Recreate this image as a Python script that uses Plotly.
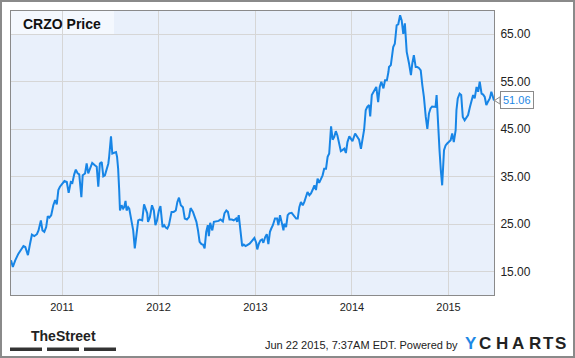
import plotly.graph_objects as go

dates = [
 "2010-06-22","2010-06-29","2010-07-08","2010-07-20","2010-08-02","2010-08-08","2010-08-15","2010-08-21","2010-08-25","2010-09-02",
 "2010-09-09","2010-09-18","2010-09-28","2010-10-04","2010-10-13","2010-10-19","2010-10-26","2010-11-02","2010-11-08","2010-11-14",
 "2010-11-21","2010-11-29","2010-12-06","2010-12-12","2010-12-18","2010-12-24","2011-01-04","2011-01-10","2011-01-19","2011-01-26",
 "2011-02-03","2011-02-09","2011-02-16","2011-02-22","2011-03-01","2011-03-07","2011-03-15","2011-03-20","2011-03-29","2011-04-04",
 "2011-04-10","2011-04-17","2011-04-25","2011-05-05","2011-05-12","2011-05-18","2011-05-24","2011-05-31","2011-06-06","2011-06-12",
 "2011-06-18","2011-06-25","2011-06-28","2011-07-05","2011-07-10","2011-07-16","2011-07-24","2011-07-28","2011-08-01","2011-08-05",
 "2011-08-08","2011-08-14","2011-08-20","2011-08-24","2011-08-29","2011-09-02","2011-09-08","2011-09-12","2011-09-14","2011-09-21",
 "2011-09-27","2011-10-03","2011-10-10","2011-10-16","2011-10-22","2011-10-31","2011-11-07","2011-11-13","2011-11-19","2011-11-22",
 "2011-11-29","2011-12-07","2011-12-14","2011-12-20","2011-12-26","2012-01-02","2012-01-08","2012-01-16","2012-01-22","2012-01-28",
 "2012-02-03","2012-02-09","2012-02-19","2012-02-27","2012-03-06","2012-03-12","2012-03-18","2012-03-25","2012-04-02","2012-04-09",
 "2012-04-17","2012-04-25","2012-05-01","2012-05-10","2012-05-16","2012-05-23","2012-05-29","2012-06-04","2012-06-11","2012-06-17",
 "2012-06-23","2012-06-29","2012-07-05","2012-07-09","2012-07-14","2012-07-22","2012-07-28","2012-08-06","2012-08-15","2012-08-22",
 "2012-08-31","2012-09-06","2012-09-13","2012-09-19","2012-09-25","2012-10-04","2012-10-11","2012-10-20","2012-10-24","2012-10-30",
 "2012-11-06","2012-11-12","2012-11-18","2012-11-25","2012-12-01","2012-12-10","2012-12-16","2012-12-22","2012-12-28","2013-01-04",
 "2013-01-08","2013-01-14","2013-01-20","2013-01-26","2013-01-31","2013-02-07","2013-02-13","2013-02-19","2013-02-25","2013-03-02",
 "2013-03-08","2013-03-16","2013-03-24","2013-03-29","2013-04-04","2013-04-10","2013-04-17","2013-04-20","2013-04-27","2013-05-03",
 "2013-05-09","2013-05-18","2013-05-26","2013-06-04","2013-06-10","2013-06-16","2013-06-22","2013-06-29","2013-07-05","2013-07-11",
 "2013-07-17","2013-07-24","2013-07-30","2013-08-05","2013-08-12","2013-08-18","2013-08-24","2013-08-30","2013-09-06","2013-09-12",
 "2013-09-18","2013-09-25","2013-10-01","2013-10-07","2013-10-14","2013-10-20","2013-10-26","2013-11-01","2013-11-07","2013-11-14",
 "2013-11-20","2013-11-26","2013-12-03","2013-12-09","2013-12-15","2013-12-22","2013-12-28","2014-01-03","2014-01-13","2014-01-22",
 "2014-01-28","2014-02-04","2014-02-10","2014-02-16","2014-02-22","2014-02-28","2014-03-07","2014-03-11","2014-03-17","2014-03-23",
 "2014-03-29","2014-04-03","2014-04-10","2014-04-16","2014-04-22","2014-04-30","2014-05-06","2014-05-13","2014-05-19","2014-05-21",
 "2014-05-28","2014-05-31","2014-06-06","2014-06-12","2014-06-15","2014-06-19","2014-06-25","2014-07-02","2014-07-08","2014-07-14",
 "2014-07-20","2014-07-27","2014-08-05","2014-08-12","2014-08-17","2014-08-23","2014-08-30","2014-09-05","2014-09-11","2014-09-18",
 "2014-09-24","2014-09-30","2014-10-07","2014-10-13","2014-10-19","2014-10-25","2014-10-31","2014-11-07","2014-11-13","2014-11-17",
 "2014-11-22","2014-11-28","2014-12-03","2014-12-08","2014-12-15","2014-12-21","2014-12-27","2015-01-02","2015-01-09","2015-01-15",
 "2015-01-21","2015-01-28","2015-01-31","2015-02-05","2015-02-12","2015-02-18","2015-02-24","2015-03-03","2015-03-09","2015-03-16",
 "2015-03-23","2015-03-29","2015-04-04","2015-04-10","2015-04-17","2015-04-23","2015-04-29","2015-05-06","2015-05-12","2015-05-18",
 "2015-05-24","2015-05-30","2015-06-06","2015-06-12","2015-06-22",
]

prices = [
 17.4,16.0,17.4,18.8,19.9,20.4,20.2,18.8,18.5,20.9,
 22.8,22.5,22.9,23.7,25.8,23.7,23.4,24.4,26.7,26.4,
 26.9,29.0,30.1,29.2,32.2,32.9,33.7,34.1,33.9,31.6,
 33.9,33.7,35.5,36.5,35.7,35.5,30.7,35.3,35.7,37.8,
 35.7,36.7,37.9,37.4,37.1,32.9,37.8,38.1,35.1,35.3,
 36.4,37.8,39.2,43.5,39.9,40.0,40.2,39.2,36.7,32.2,
 27.9,29.0,28.3,28.6,29.9,27.9,28.6,28.3,27.6,25.8,
 23.7,19.9,22.7,25.8,26.0,25.8,29.2,28.1,27.3,25.5,
 26.5,29.0,27.9,24.8,25.8,27.9,28.8,24.4,24.8,24.3,
 24.1,24.8,27.6,27.6,27.9,29.7,30.6,29.0,28.6,26.2,
 26.0,26.5,28.4,27.6,26.5,25.5,23.7,21.3,20.8,20.7,
 19.9,23.4,24.8,22.5,25.3,23.7,25.5,25.6,25.7,26.0,
 25.6,27.3,27.9,27.6,26.0,26.0,25.8,26.2,25.5,26.9,
 23.4,20.4,20.7,20.4,20.6,20.9,21.3,21.6,22.1,21.1,
 19.7,20.9,21.6,21.8,21.1,22.3,22.9,20.8,23.4,24.1,
 24.8,26.2,26.2,24.8,26.9,25.5,23.7,25.1,24.4,26.9,
 27.3,27.4,26.9,26.2,26.2,28.6,29.7,29.0,29.7,30.7,
 31.8,31.1,31.5,32.2,33.2,32.2,34.6,33.7,34.4,35.3,
 36.7,36.7,39.2,39.9,45.6,42.8,43.4,44.6,43.7,42.0,
 40.4,40.6,40.9,40.0,42.3,43.5,43.0,42.5,44.1,43.4,
 42.8,40.9,43.4,44.9,49.0,49.7,50.1,47.7,52.2,52.9,
 53.6,53.9,50.7,53.9,55.0,53.6,55.3,55.3,57.1,58.1,
 58.5,59.9,62.3,63.0,65.1,66.9,67.1,69.0,67.9,65.1,
 67.3,61.3,58.8,56.4,58.8,60.6,58.1,58.1,57.9,57.4,
 54.3,51.8,47.6,45.1,48.3,49.4,49.8,49.8,49.7,52.2,
 45.5,40.6,36.4,33.2,40.6,41.6,42.0,42.3,42.7,44.1,
 42.3,44.8,49.0,51.5,52.5,52.2,47.6,46.9,47.3,48.0,
 49.7,51.1,52.2,51.5,53.9,52.9,55.0,52.5,52.3,51.8,
 50.1,50.8,51.5,52.9,51.06,
]

title_text = "CRZO Price"
y_ticks = [15, 25, 35, 45, 55, 65]
x_range = ["2010-06-22", "2015-06-22"]
y_range = [10.1, 69.9]
footer_text = "Jun 22 2015, 7:37AM EDT. Powered by"
logo_letters = ["Y", "C", "H", "A", "R", "T", "S"]

W, H = 575, 358
L, R, T, B = 11, 81, 11, 63
PW, PH = W - L - R, H - T - B

def px(x):
    return (x - L) / PW

def py(y):
    return (H - B - y) / PH

line_color = "#1785E6"
blue_text = "#1E88E5"

fig = go.Figure()
fig.add_trace(go.Scatter(
    x=dates, y=prices, mode="lines",
    line=dict(color=line_color, width=2),
    hoverinfo="skip", showlegend=False,
))

font_family = "Liberation Sans, Arial, sans-serif"

fig.update_layout(
    width=W, height=H,
    margin=dict(l=L, r=R, t=T, b=B, pad=0),
    paper_bgcolor="white",
    plot_bgcolor="#E9F0FB",
    font=dict(family=font_family, color="#222"),
    xaxis=dict(
        type="date", range=x_range,
        tick0="2011-01-01", dtick="M12", tickformat="%Y",
        showgrid=True, gridcolor="#D6D6D6", gridwidth=1,
        showline=True, linecolor="#8A8A8A", linewidth=1, mirror=True,
        ticks="", tickfont=dict(size=11, color="#222"),
        ticklabelstandoff=2,
        zeroline=False,
    ),
    yaxis=dict(
        side="right", range=y_range,
        tickvals=y_ticks, tickformat=".2f",
        showgrid=True, gridcolor="#D6D6D6", gridwidth=1,
        showline=True, linecolor="#8A8A8A", linewidth=1, mirror=True,
        ticks="", tickfont=dict(size=12, color="#222"),
        ticklabelstandoff=3,
        zeroline=False,
    ),
)

shapes = []
# outer frame
shapes.append(dict(type="rect", xref="paper", yref="paper",
                   x0=px(1), x1=px(574), y0=py(357), y1=py(1),
                   line=dict(color="#8A8A8A", width=2), fillcolor="rgba(0,0,0,0)", layer="below"))
# title box
shapes.append(dict(type="rect", xref="paper", yref="paper",
                   x0=0, x1=px(114), y0=py(34), y1=1,
                   line=dict(width=0), fillcolor="#F4F8FE", layer="below"))
# TheStreet bars
for a, b in [(10, 42), (47, 79), (84, 116)]:
    shapes.append(dict(type="rect", xref="paper", yref="paper",
                       x0=px(a), x1=px(b), y0=py(351), y1=py(347.5),
                       line=dict(width=0), fillcolor="#333333"))
# last value pointer
last = prices[-1]
dy = 3.6 * (y_range[1] - y_range[0]) / PH
x_tip = px(494.5)
x_base = px(500)
shapes.append(dict(type="path", xref="paper", yref="y",
                   path=f"M {x_tip} {last} L {x_base} {last + dy} L {x_base} {last - dy} Z",
                   fillcolor="white", line=dict(color="#8A8A8A", width=1)))
fig.update_layout(shapes=shapes)

annotations = [
    dict(text="<b>" + title_text + "</b>", xref="paper", yref="paper",
         x=px(21), y=py(23.5), xanchor="left", yanchor="middle",
         showarrow=False, font=dict(size=14, color="#111", family=font_family)),
    dict(text=f"{last:.2f}", xref="paper", yref="y",
         x=px(499.5), y=last, xanchor="left", yanchor="middle",
         showarrow=False, bgcolor="white", bordercolor="#8A8A8A", borderwidth=1,
         borderpad=2, font=dict(size=11, color=blue_text, family=font_family)),
    dict(text="<b>TheStreet</b>", xref="paper", yref="paper",
         x=px(63), y=py(336), xanchor="center", yanchor="middle",
         showarrow=False, font=dict(size=14, color="#222", family="Liberation Sans Narrow, Liberation Sans, sans-serif")),
    dict(text=footer_text, xref="paper", yref="paper",
         x=px(460), y=py(345), xanchor="right", yanchor="middle",
         showarrow=False, font=dict(size=11, color="#222", family=font_family)),
]
letter_centers = [471, 485, 502, 518, 534.5, 548.5, 560]
for i, (ch, cx) in enumerate(zip(logo_letters, letter_centers)):
    annotations.append(dict(
        text=f"<b>{ch}</b>", xref="paper", yref="paper",
        x=px(cx), y=py(344), xanchor="center", yanchor="middle",
        showarrow=False,
        font=dict(size=17, color=blue_text if i == 0 else "#222", family=font_family)))
fig.update_layout(annotations=annotations)

fig.write_html("out.html", config={"displayModeBar": False},
               post_script="document.body.style.margin='0';document.body.style.padding='0';")
